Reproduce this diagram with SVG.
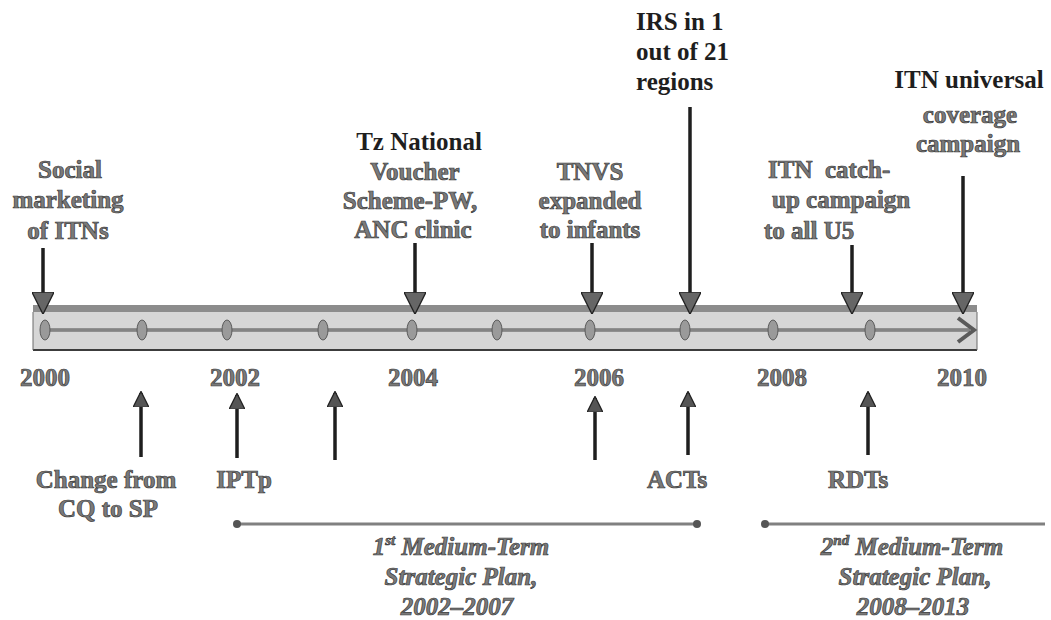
<svg xmlns="http://www.w3.org/2000/svg" width="1051" height="620" viewBox="0 0 1051 620">
<style>
text{font-family:"Liberation Serif","Times New Roman",serif;font-weight:bold;font-size:25px;text-anchor:middle}
.crisp{fill:#1e1e1e}
.noisy{fill:#7a7a7a;stroke:#3a3a3a;stroke-width:0.7}
.plan{font-style:italic}
.ln{stroke:#1e1e1e;stroke-width:3.5;fill:none}
.plan-line{stroke:#808080;stroke-width:3;fill:none}
.tick{fill:#9a9a9a;stroke:#5a5a5a;stroke-width:1}
</style>
<defs>
<marker id="head" viewBox="0 0 10 10" refX="9" refY="5" markerWidth="16" markerHeight="16" markerUnits="userSpaceOnUse" orient="auto">
<path d="M0,0 L10,5 L0,10 z" fill="#555" stroke="#222" stroke-width="0.8"/>
</marker>
<marker id="bighead" viewBox="0 0 10 10" refX="9" refY="5" markerWidth="22" markerHeight="22" markerUnits="userSpaceOnUse" orient="auto">
<path d="M0,0 L10,5 L0,10 z" fill="#666" stroke="#222" stroke-width="0.6"/>
</marker>
</defs>
<rect width="1051" height="620" fill="#ffffff"/>

<g id="timeline">
<rect x="33" y="312" width="944" height="38" fill="#d6d6d6"/>
<rect x="33" y="305" width="944" height="7" fill="#8c8c8c"/>
<line x1="33" y1="350" x2="977" y2="350" stroke="#3c3c3c" stroke-width="2"/>
<line x1="33" y1="312" x2="33" y2="350" stroke="#6a6a6a" stroke-width="1"/>
<line x1="977" y1="312" x2="977" y2="350" stroke="#6a6a6a" stroke-width="1"/>
<line x1="45" y1="330" x2="970" y2="330" stroke="#4a4a4a" stroke-width="3"/>
<line x1="45" y1="330" x2="970" y2="330" stroke="#bdbdbd" stroke-width="1"/>
<polyline points="958,318 974,330 958,342" fill="none" stroke="#5a5a5a" stroke-width="4"/>
<ellipse class="tick" cx="45" cy="330" rx="5" ry="10"/>
<ellipse class="tick" cx="142" cy="330" rx="5" ry="10"/>
<ellipse class="tick" cx="227" cy="330" rx="5" ry="10"/>
<ellipse class="tick" cx="323" cy="330" rx="5" ry="10"/>
<ellipse class="tick" cx="412" cy="330" rx="5" ry="10"/>
<ellipse class="tick" cx="497" cy="330" rx="5" ry="10"/>
<ellipse class="tick" cx="590" cy="330" rx="5" ry="10"/>
<ellipse class="tick" cx="685" cy="330" rx="5" ry="10"/>
<ellipse class="tick" cx="773" cy="330" rx="5" ry="10"/>
<ellipse class="tick" cx="870" cy="330" rx="5" ry="10"/>
</g>

<g id="years">
<text class="noisy" x="45" y="386">2000</text>
<text class="noisy" x="235" y="386">2002</text>
<text class="noisy" x="413" y="386">2004</text>
<text class="noisy" x="599" y="386">2006</text>
<text class="noisy" x="782" y="386">2008</text>
<text class="noisy" x="962" y="386">2010</text>
</g>

<g id="connectors">
<line class="ln" x1="43" y1="248" x2="43" y2="312" marker-end="url(#bighead)"/>
<line class="ln" x1="415" y1="243" x2="415" y2="312" marker-end="url(#bighead)"/>
<line class="ln" x1="592" y1="243" x2="592" y2="312" marker-end="url(#bighead)"/>
<line class="ln" x1="690" y1="107" x2="690" y2="312" marker-end="url(#bighead)"/>
<line class="ln" x1="852" y1="245" x2="852" y2="312" marker-end="url(#bighead)"/>
<line class="ln" x1="963" y1="176" x2="963" y2="312" marker-end="url(#bighead)"/>

<line class="ln" x1="141" y1="457" x2="141" y2="393" marker-end="url(#head)"/>
<line class="ln" x1="237" y1="458" x2="237" y2="395" marker-end="url(#head)"/>
<line class="ln" x1="335" y1="460" x2="335" y2="393" marker-end="url(#head)"/>
<line class="ln" x1="595" y1="460" x2="595" y2="398" marker-end="url(#head)"/>
<line class="ln" x1="688" y1="455" x2="688" y2="393" marker-end="url(#head)"/>
<line class="ln" x1="868" y1="455" x2="868" y2="393" marker-end="url(#head)"/>

<line class="plan-line" x1="237" y1="524" x2="697" y2="524"/>
<circle cx="237" cy="524" r="4" fill="#555"/>
<circle cx="697" cy="524" r="4" fill="#555"/>
<line class="plan-line" x1="765" y1="524" x2="1045" y2="524"/>
<circle cx="765" cy="524" r="4" fill="#555"/>
</g>

<g id="social-marketing">
<text class="noisy" x="70" y="178">Social</text>
<text class="noisy" x="68" y="208">marketing</text>
<text class="noisy" x="68" y="239">of ITNs</text>
</g>

<g id="tz-national-voucher">
<text class="crisp" x="419" y="150">Tz National</text>
<text class="noisy" x="415" y="180">Voucher</text>
<text class="noisy" x="410" y="209">Scheme-PW,</text>
<text class="noisy" x="413" y="238">ANC clinic</text>
</g>

<g id="tnvs">
<text class="noisy" x="590" y="180">TNVS</text>
<text class="noisy" x="590" y="209">expanded</text>
<text class="noisy" x="590" y="238">to infants</text>
</g>

<g id="irs">
<text class="crisp" x="636" y="30" style="text-anchor:start">IRS in 1</text>
<text class="crisp" x="636" y="60" style="text-anchor:start">out of 21</text>
<text class="crisp" x="636" y="90" style="text-anchor:start">regions</text>
</g>

<g id="itn-catch-up">
<text class="noisy" x="768" y="178" style="text-anchor:start" xml:space="preserve">ITN  catch-</text>
<text class="noisy" x="772" y="208" style="text-anchor:start">up campaign</text>
<text class="noisy" x="764" y="239" style="text-anchor:start">to all U5</text>
</g>

<g id="itn-universal">
<text class="crisp" x="969" y="88">ITN universal</text>
<text class="noisy" x="970" y="123">coverage</text>
<text class="noisy" x="968" y="152">campaign</text>
</g>

<g id="change-cq-sp">
<text class="noisy" x="106" y="488">Change from</text>
<text class="noisy" x="108" y="517">CQ to SP</text>
</g>

<g id="iptp">
<text class="noisy" x="244" y="488">IPTp</text>
</g>

<g id="acts">
<text class="noisy" x="677" y="488">ACTs</text>
</g>

<g id="rdts">
<text class="noisy" x="858" y="488">RDTs</text>
</g>

<g id="plan1">
<text class="noisy plan" x="461" y="555">1<tspan font-size="15" dy="-10">st</tspan><tspan dy="10"> Medium-Term</tspan></text>
<text class="noisy plan" x="461" y="585">Strategic Plan,</text>
<text class="noisy plan" x="457" y="615">2002–2007</text>
</g>

<g id="plan2">
<text class="noisy plan" x="912" y="555">2<tspan font-size="15" dy="-10">nd</tspan><tspan dy="10"> Medium-Term</tspan></text>
<text class="noisy plan" x="915" y="585">Strategic Plan,</text>
<text class="noisy plan" x="913" y="615">2008–2013</text>
</g>
</svg>
